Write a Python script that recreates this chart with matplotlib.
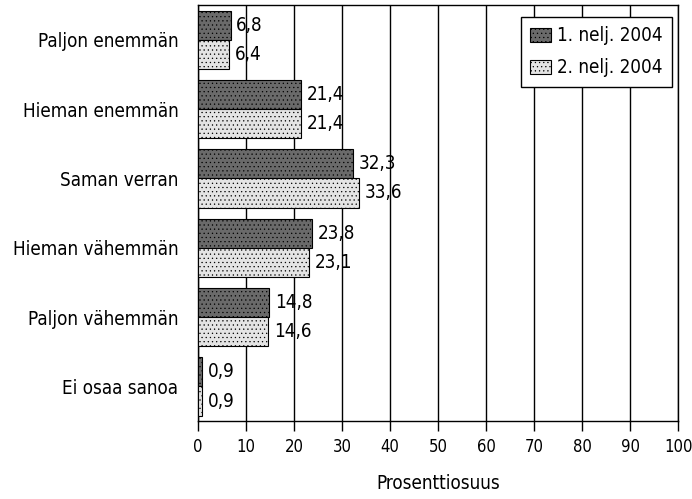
import numpy as np
import matplotlib
matplotlib.use("Agg")
import matplotlib.pyplot as plt

plt.rcParams["font.family"] = ["DejaVu Sans"]
plt.rcParams["font.stretch"] = "condensed"
plt.rcParams["hatch.linewidth"] = 0.4

categories = ["Paljon enemmän", "Hieman enemmän", "Saman verran",
              "Hieman vähemmän", "Paljon vähemmän", "Ei osaa sanoa"]
q1 = [6.8, 21.4, 32.3, 23.8, 14.8, 0.9]
q2 = [6.4, 21.4, 33.6, 23.1, 14.6, 0.9]
series_names = ["1. nelj. 2004", "2. nelj. 2004"]

fs = 13.5

fig = plt.figure(figsize=(6.92, 4.99), dpi=100)
ax = fig.add_axes([0.286, 0.156, 0.694, 0.834])

y = np.arange(len(categories))
h = 0.42

b1 = ax.barh(y - h / 2, q1, height=h, color="#6a6a6a", edgecolor="black",
             linewidth=0.8, hatch="....", label=series_names[0], zorder=3)
b2 = ax.barh(y + h / 2, q2, height=h, color="#e4e4e4", edgecolor="black",
             linewidth=0.8, hatch="....", label=series_names[1], zorder=3)

for bars, vals in [(b1, q1), (b2, q2)]:
    for rect, v in zip(bars, vals):
        ax.text(v + 1.2, rect.get_y() + rect.get_height() / 2,
                f"{v:.1f}".replace(".", ","), va="center", ha="left",
                fontsize=fs)

ax.set_xlim(0, 100)
ax.set_ylim(len(categories) - 0.5, -0.5)
ax.set_xticks(range(0, 101, 10))
ax.set_yticks(y)
ax.set_yticklabels(categories, fontsize=fs)
ax.tick_params(axis="x", labelsize=12, length=7, width=1, direction="out", pad=5)
ax.tick_params(axis="y", length=0, pad=14)
ax.xaxis.grid(True, color="black", linewidth=1, zorder=0)
ax.set_axisbelow(True)
for s in ax.spines.values():
    s.set_linewidth(1)

ax.set_xlabel("Prosenttiosuus", fontsize=fs, labelpad=13)

leg = ax.legend(loc="upper right", bbox_to_anchor=(0.998, 0.985), fontsize=fs,
                frameon=True, fancybox=False, edgecolor="black",
                handlelength=1.1, handleheight=0.8, handletextpad=0.3,
                borderpad=0.5, labelspacing=0.7, borderaxespad=0.3)
leg.get_frame().set_linewidth(1)
leg.get_frame().set_alpha(1)

fig.savefig("out.png", dpi=100)
